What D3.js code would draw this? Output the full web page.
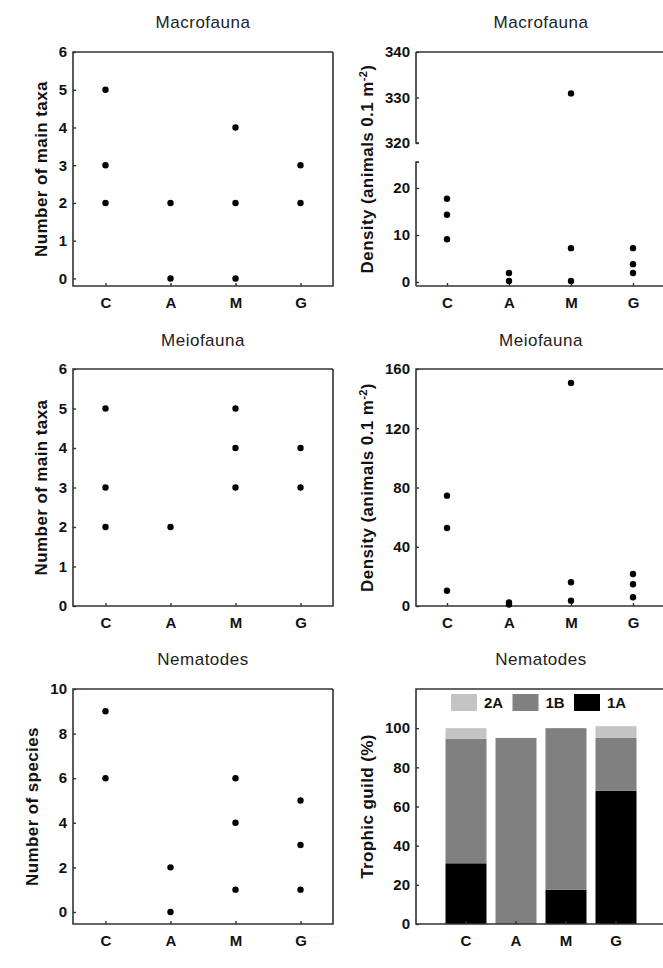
<!DOCTYPE html>
<html lang="en">
<head>
<meta charset="utf-8">
<script src="https://d3js.org/d3.v7.min.js"></script>
<style>
  body { margin: 0; background: #fff; }
  svg { display: block; font-family: "Liberation Sans", Arial, sans-serif; }
  .title { font-size: 17px; fill: #222; letter-spacing: 0.5px; }
  .tick text { font-size: 15px; font-weight: bold; fill: #111; }
  .ylab { font-size: 17px; font-weight: bold; fill: #111; letter-spacing: 0.4px; }
  .frame { fill: none; stroke: #333; stroke-width: 1.6px; }
  .axis path, .axis line { stroke: #333; stroke-width: 1.4px; }
  .legend text { font-size: 15px; font-weight: bold; fill: #111; }
</style>
</head>
<body>
<svg width="663" height="968"></svg>
<script>
var sites = ["C", "A", "M", "G"];

// [site, value] pairs
var macroTaxa = [["C", 5], ["C", 3], ["C", 2], ["A", 2], ["A", 0], ["M", 4], ["M", 2], ["M", 0], ["G", 3], ["G", 2]];
var macroDensity = [["C", 17.7], ["C", 14.3], ["C", 9.1], ["A", 1.9], ["A", 0.2], ["M", 330.9], ["M", 7.2], ["M", 0.2], ["G", 7.2], ["G", 3.8], ["G", 1.9]];
var meioTaxa = [["C", 5], ["C", 3], ["C", 2], ["A", 2], ["M", 5], ["M", 4], ["M", 3], ["G", 4], ["G", 3]];
var meioDensity = [["C", 74.5], ["C", 52.7], ["C", 10.3], ["A", 2.4], ["A", 1.0], ["M", 150.5], ["M", 16], ["M", 3.6], ["G", 21.6], ["G", 14.7], ["G", 5.9]];
var nemSpecies = [["C", 9], ["C", 6], ["A", 2], ["A", 0], ["M", 6], ["M", 4], ["M", 1], ["G", 5], ["G", 3], ["G", 1]];

// trophic guild % per site (C, A, M, G)
var guild1A = [31, 0, 17.5, 68];
var guild1B = [63.5, 95, 82.5, 27];
var guild2A = [5.5, 0, 0, 6];
var guildNames = ["2A", "1B", "1A"];
var guildColors = ["#c4c4c4", "#808080", "#000000"];

var taxaTicks = [0, 1, 2, 3, 4, 5, 6];
var densLowTicks = [0, 10, 20];
var densHighTicks = [320, 330, 340];
var meioDensTicks = [0, 40, 80, 120, 160];
var speciesTicks = [0, 2, 4, 6, 8, 10];
var guildTicks = [0, 20, 40, 60, 80, 100];

var svg = d3.select("svg");

var leftCol = { x0: 73, x1: 333, labX: 41, titleX: 203, right: true };
var rightCol = { x0: 416, x1: 664, labX: 367, titleX: 541, right: false };
var rows = [
  { top: 52, bottom: 286, titleY: 28 },
  { top: 369, bottom: 606, titleY: 346 },
  { top: 689, bottom: 924, titleY: 665 }
];

function yAxis(g, scale, ticks, x) {
  g.append("g")
    .attr("class", "axis")
    .attr("transform", "translate(" + x + ",0)")
    .call(d3.axisLeft(scale).tickValues(ticks).tickFormat(d3.format("d"))
      .tickSizeInner(-3).tickSizeOuter(0).tickPadding(6))
    .select(".domain").remove();
}

function xAxis(g, scale, y) {
  g.append("g")
    .attr("class", "axis")
    .attr("transform", "translate(0," + y + ")")
    .call(d3.axisBottom(scale).tickSizeInner(-3).tickSizeOuter(0).tickPadding(11))
    .select(".domain").remove();
}

function frame(g, col, row, skipLeft) {
  var xr = col.right ? col.x1 : col.x1 + 8;
  var p = d3.path();
  p.moveTo(xr, row.top);
  p.lineTo(col.x0, row.top);
  if (skipLeft) p.moveTo(col.x0, row.bottom); else p.lineTo(col.x0, row.bottom);
  p.lineTo(xr, row.bottom);
  if (col.right) p.lineTo(col.x1, row.top);
  g.append("path").attr("class", "frame").attr("d", p.toString());
}

function titleAndLabel(g, col, row, title, label, labX) {
  g.append("text").attr("class", "title")
    .attr("x", col.titleX).attr("y", row.titleY)
    .attr("text-anchor", "middle").text(title);
  var t = g.append("text").attr("class", "ylab")
    .attr("transform", "translate(" + (labX || col.labX) + "," + ((row.top + row.bottom) / 2) + ") rotate(-90)")
    .attr("text-anchor", "middle").attr("dy", "0.35em");
  if (label === "density") {
    t.append("tspan").text("Density (animals 0.1 m");
    t.append("tspan").attr("font-size", "11px").attr("baseline-shift", "super").text("-2");
    t.append("tspan").text(")");
  } else {
    t.text(label);
  }
}

function dots(g, data, x, y) {
  g.selectAll(null).data(data).enter().append("circle")
    .attr("cx", function (d) { return x(d[0]); })
    .attr("cy", function (d) { return y(d[1]); })
    .attr("r", 3.2)
    .attr("fill", "#000");
}

function scatter(col, row, data, yScale, ticks, title, label, labX) {
  var g = svg.append("g");
  var x = d3.scalePoint().domain(sites).range([col.x0, col.x1]).padding(0.5);
  frame(g, col, row, false);
  yAxis(g, yScale, ticks, col.x0);
  xAxis(g, x, row.bottom);
  dots(g, data, x, yScale);
  titleAndLabel(g, col, row, title, label, labX);
}

// row 1
scatter(leftCol, rows[0], macroTaxa,
  d3.scaleLinear().domain([-0.2, 6]).range([rows[0].bottom, rows[0].top]),
  taxaTicks, "Macrofauna", "Number of main taxa");

// macrofauna density with broken axis
(function () {
  var col = rightCol, row = rows[0];
  var g = svg.append("g");
  var x = d3.scalePoint().domain(sites).range([col.x0, col.x1]).padding(0.5);
  var yLow = d3.scaleLinear().domain([0, 20]).range([282, 188]);
  var yHigh = d3.scaleLinear().domain([320, 340]).range([143, row.top]);
  frame(g, col, row, true);
  // broken left axis: two segments with small inward hooks
  var lowTop = yLow(25.5);
  g.append("path").attr("class", "frame")
    .attr("d", "M" + (col.x0 + 3) + "," + yHigh(320) + "H" + col.x0 + "V" + row.top);
  g.append("path").attr("class", "frame")
    .attr("d", "M" + (col.x0 + 3) + "," + lowTop + "H" + col.x0 + "V" + row.bottom);
  yAxis(g, yLow, densLowTicks, col.x0);
  yAxis(g, yHigh, densHighTicks, col.x0);
  xAxis(g, x, row.bottom);
  g.selectAll(null).data(macroDensity).enter().append("circle")
    .attr("cx", function (d) { return x(d[0]); })
    .attr("cy", function (d) { return d[1] > 300 ? yHigh(d[1]) : yLow(d[1]); })
    .attr("r", 3.2)
    .attr("fill", "#000");
  titleAndLabel(g, col, row, "Macrofauna", "density");
})();

// row 2
scatter(leftCol, rows[1], meioTaxa,
  d3.scaleLinear().domain([0, 6]).range([rows[1].bottom, rows[1].top]),
  taxaTicks, "Meiofauna", "Number of main taxa");
scatter(rightCol, rows[1], meioDensity,
  d3.scaleLinear().domain([0, 160]).range([rows[1].bottom, rows[1].top]),
  meioDensTicks, "Meiofauna", "density");

// row 3
scatter(leftCol, rows[2], nemSpecies,
  d3.scaleLinear().domain([-0.54, 10]).range([rows[2].bottom, rows[2].top]),
  speciesTicks, "Nematodes", "Number of species", 32);

// trophic guild stacked bars
(function () {
  var col = rightCol, row = rows[2];
  var g = svg.append("g");
  var x = d3.scaleBand().domain(sites).range([441, 641]).paddingInner(0.18).paddingOuter(0.09);
  var y = d3.scaleLinear().domain([0, 120]).range([row.bottom, row.top]);
  var table = sites.map(function (s, i) {
    return { site: s, "1A": guild1A[i], "1B": guild1B[i], "2A": guild2A[i] };
  });
  var stack = d3.stack().keys(["1A", "1B", "2A"])(table);
  var color = d3.scaleOrdinal().domain(guildNames).range(guildColors);
  g.selectAll(null).data(stack).enter().append("g")
    .attr("fill", function (d) { return color(d.key); })
    .selectAll("rect").data(function (d) { return d; }).enter().append("rect")
    .attr("x", function (d) { return x(d.data.site); })
    .attr("width", x.bandwidth())
    .attr("y", function (d) { return y(d[1]); })
    .attr("height", function (d) { return y(d[0]) - y(d[1]); });
  frame(g, col, row, false);
  yAxis(g, y, guildTicks, col.x0);
  g.append("g")
    .attr("class", "axis")
    .attr("transform", "translate(0," + row.bottom + ")")
    .call(d3.axisBottom(x).tickSizeInner(-3).tickSizeOuter(0).tickPadding(11))
    .select(".domain").remove();
  var lg = g.append("g").attr("class", "legend");
  var item = lg.selectAll("g").data(guildNames).enter().append("g")
    .attr("transform", function (d, i) { return "translate(" + (451 + i * 61.5) + ",694)"; });
  item.append("rect").attr("width", 26).attr("height", 17)
    .attr("fill", function (d) { return color(d); });
  item.append("text").attr("x", 33).attr("y", 14).text(function (d) { return d; });
  titleAndLabel(g, col, row, "Nematodes", "Trophic guild (%)");
})();
</script>
</body>
</html>
